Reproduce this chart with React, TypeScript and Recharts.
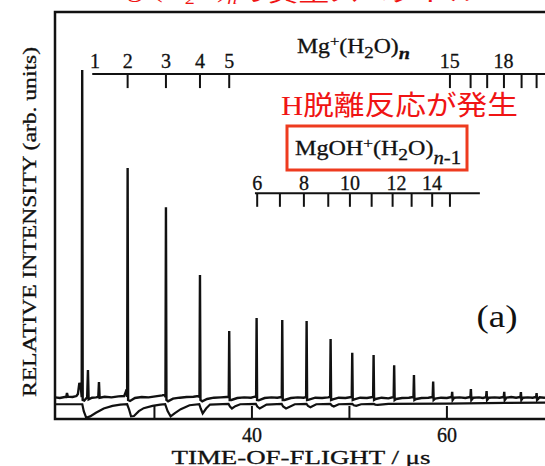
import { LineChart, Line, XAxis, YAxis, ReferenceLine, ReferenceDot, ReferenceArea } from 'recharts'

// TOF spectrum, time in µs, intensity in arb. units (Mg+ peak = 100)
const peakTimes = [22.59, 27.25, 31.18, 34.67, 37.67, 40.48, 43.11, 45.61, 48.07, 50.29, 52.48, 54.59, 56.62, 58.59, 60.54, 62.46, 64.07, 65.88, 67.59, 69.2]
const peakHeights = [100, 70.1, 58.2, 37.5, 20.4, 24.4, 23.8, 23.5, 18.0, 13.8, 13.1, 10.0, 7.0, 5.0, 1.9, 2.7, 2.1, 1.9, 1.8, 1.5]

// upper trace between the main peaks (small side peaks included)
const baseline: [number, number][] = [
  [19.8, 0.2], [20.3, 0.0], [20.8, 0.3], [20.95, 0.3], [21.03, 1.5], [21.12, 0.4], [21.6, 0.3], [22.0, 0.6], [22.15, 1.2], [22.3, 4.6], [22.45, 3.2],
  [22.8, -0.8], [23.1, 0.2], [23.18, 8.5], [23.25, -0.4], [23.6, 0.1], [24.0, 0.2], [24.24, 0.3], [24.31, 4.9], [24.38, 0.1], [24.9, 0.4], [25.6, 0.2], [26.3, 0.5], [26.9, 0.6], [27.05, 1.8], [27.15, 2.6],
  [27.5, -0.9], [28.0, 0.0], [28.7, 0.3], [29.4, 0.2], [30.1, 0.5], [30.8, 0.8], [31.05, 1.0],
  [31.4, -1.0], [31.9, -0.2], [32.6, 0.1], [33.3, 0.3], [34.0, 0.4], [34.5, 0.6],
  [34.9, -1.0], [35.4, -0.3], [36.1, 0.1], [36.8, 0.2], [37.4, 0.3],
  [37.9, -0.6], [38.5, 0.0], [39.2, 0.2], [39.9, 0.1], [40.3, 0.4],
  [40.7, -0.7], [41.3, 0.0], [42.0, 0.2], [42.6, 0.1],
  [43.35, -0.6], [44.0, 0.0], [44.7, 0.2], [45.3, 0.1],
  [45.85, -0.5], [46.5, 0.1], [47.2, 0.0], [47.8, 0.2],
  [48.3, -0.4], [48.9, 0.1], [49.6, 0.0],
  [50.5, -0.4], [51.1, 0.1], [51.8, 0.0],
  [52.7, -0.3], [53.3, 0.1], [54.0, -0.1],
  [54.8, -0.3], [55.4, 0.0], [56.1, 0.1],
  [56.85, -0.3], [57.4, 0.0], [58.1, 0.1],
  [58.8, -0.2], [59.4, 0.1], [60.0, 0.0],
  [60.75, 0.1], [61.3, 0.2], [61.9, 0.0],
  [62.7, 0.1], [63.3, 0.2], [63.7, 0.0],
  [64.3, 0.1], [64.9, 0.2], [65.4, 0.1],
  [66.1, 0.1], [66.6, 0.3], [67.1, 0.1],
  [67.8, 0.1], [68.3, 0.2], [68.8, 0.1],
  [69.5, 0.2], [70.0, 0.1], [70.6, 0.3], [71.1, 0.1], [71.6, 0.2],
]

// lower trace with the undershoot after each strong peak
const lowerTrace: [number, number][] = [
  [19.8, -1.9], [21.5, -1.9], [22.6, -1.9], [22.75, -4.0], [23.0, -6.0], [23.4, -5.6], [24.0, -4.5], [24.8, -3.2], [25.7, -2.4], [26.5, -2.0],
  [27.2, -1.9], [27.4, -3.5], [27.6, -5.6], [27.9, -5.5], [28.4, -4.0], [28.9, -3.1], [29.8, -2.4], [30.6, -2.0],
  [31.1, -1.9], [31.35, -4.0], [31.66, -5.6], [32.1, -4.6], [32.7, -3.4], [33.6, -2.2],
  [34.6, -1.9], [34.75, -3.2], [34.95, -4.7], [35.3, -3.2], [35.7, -2.0],
  [37.6, -1.8], [37.75, -2.6], [37.95, -3.2], [38.3, -2.5], [38.8, -1.9],
  [40.4, -1.8], [40.55, -2.6], [40.8, -3.2], [41.5, -2.0],
  [43.05, -1.8], [43.2, -2.6], [43.5, -3.2], [44.4, -1.9],
  [45.6, -1.8], [45.75, -2.4], [46.0, -2.8], [46.6, -1.9],
  [48.05, -1.8], [48.2, -2.3], [48.4, -2.6], [48.9, -1.9],
  [50.3, -1.8], [50.45, -2.2], [50.7, -2.4], [51.2, -1.9],
  [52.5, -1.8], [52.65, -2.0], [52.9, -2.1], [54.0, -1.8],
  [60.0, -1.7], [66.0, -1.5], [71.6, -1.4],
]

// Mg+(H2O)n ladder (upper) and MgOH+(H2O)n-1 ladder (lower)
const mgTickTimes = [27.25, 31.18, 34.67, 37.67, 60.31, 62.43, 64.13, 65.85, 67.66, 69.2]
const mgLabels = ['1', '2', '3', '4', '5', '15', '18']
const mgLabelTimes = [23.9, 27.25, 31.18, 34.67, 37.67, 60.3, 65.8]
const mgohTickTimes = [40.54, 42.87, 45.33, 47.83, 50.05, 52.28, 54.43, 56.38, 58.49, 60.31]
const mgohLabels = ['6', '8', '10', '12', '14']
const mgohLabelTimes = [40.54, 45.33, 50.05, 54.84, 58.46]

const xTicks = [30, 40, 50, 60]
const xTickLabels = ['', '40', '', '60']

const X_DOMAIN = [19.8, 71.6]
const Y_DOMAIN = [-6.4, 117.7]
const SERIF = '"Liberation Serif", "DejaVu Serif", serif'
const INK = '#111'

const mainTrace = [
  ...baseline.map(([t, v]) => ({ t, v })),
  ...peakTimes.flatMap((t, i) => [
    { t: t - 0.05, v: 0.3 },
    { t, v: peakHeights[i] },
    { t: t + 0.05, v: -0.6 },
  ]),
].sort((a, b) => a.t - b.t)

const lowerData = lowerTrace.map(([t, v]) => ({ t, v }))

const TofTick = (props: any) => {
  const { x, y, payload } = props
  const idx = xTicks.indexOf(payload.value)
  return (
    <g>
      <line x1={x} y1={y} x2={x} y2={y - 13} stroke={INK} strokeWidth={2} />
      <text x={x} y={y + 23} textAnchor="middle" fontFamily={SERIF} fontSize={20} fill={INK} stroke={INK} strokeWidth={0.3}>
        {xTickLabels[idx]}
      </text>
    </g>
  )
}

const ladderLabel = (text: string, size: number) => (p: any) => (
  <text x={p.cx} y={p.cy} textAnchor="middle" fontFamily={SERIF} fontSize={size} fill={INK} stroke={INK} strokeWidth={0.3}>
    {text}
  </text>
)

export default function App() {
  return (
    <div style={{ position: 'absolute', left: 0, top: 0, width: 545, height: 466, overflow: 'hidden', background: '#fff' }}>
      <LineChart width={560} height={466} margin={{ top: 12, right: 0, bottom: 0, left: 55 }}>
        <XAxis
          type="number"
          dataKey="t"
          domain={X_DOMAIN}
          ticks={xTicks}
          axisLine={false}
          tickLine={false}
          tickSize={0}
          tickMargin={0}
          height={47}
          tick={<TofTick />}
          allowDataOverflow
        />
        <YAxis type="number" domain={Y_DOMAIN} hide allowDataOverflow />
        <ReferenceArea x1={X_DOMAIN[0]} x2={X_DOMAIN[1]} y1={Y_DOMAIN[0]} y2={Y_DOMAIN[1]} fill="none" stroke={INK} strokeWidth={2.5} />

        {/* Mg+(H2O)n ladder */}
        <ReferenceLine segment={[{ x: 23.62, y: 98.8 }, { x: 71.6, y: 98.8 }]} stroke={INK} strokeWidth={2} />
        {mgTickTimes.map((t) => (
          <ReferenceLine key={`mg-${t}`} segment={[{ x: t, y: 98.8 }, { x: t, y: 94.5 }]} stroke={INK} strokeWidth={2} />
        ))}
        {mgLabels.map((n, i) => (
          <ReferenceDot key={`mgl-${n}`} x={mgLabelTimes[i]} y={100.6} r={0} shape={ladderLabel(n, 20)} />
        ))}

        {/* MgOH+(H2O)n-1 ladder */}
        <ReferenceLine segment={[{ x: 40.31, y: 62.4 }, { x: 63.38, y: 62.4 }]} stroke={INK} strokeWidth={2} />
        {mgohTickTimes.map((t) => (
          <ReferenceLine key={`oh-${t}`} segment={[{ x: t, y: 62.4 }, { x: t, y: 58.3 }]} stroke={INK} strokeWidth={2} />
        ))}
        {mgohLabels.map((n, i) => (
          <ReferenceDot key={`ohl-${n}`} x={mgohLabelTimes[i]} y={63.4} r={0} shape={ladderLabel(n, 20)} />
        ))}

        <Line data={lowerData} dataKey="v" type="linear" stroke={INK} strokeWidth={2.2} dot={false} isAnimationActive={false} />
        <Line data={mainTrace} dataKey="v" type="linear" stroke={INK} strokeWidth={2.4} dot={false} isAnimationActive={false} />
      </LineChart>

      <svg width={545} height={466} style={{ position: 'absolute', left: 0, top: 0, pointerEvents: 'none' }}>
        {/* caption cut off at the very top */}
        <text x={100} y={-3} fontSize={26} fill="#f01414" textLength={380} lengthAdjust="spacingAndGlyphs" fontFamily={SERIF}>
          Mg<tspan dy={-9} fontSize={15}>+</tspan><tspan dy={9}>(H</tspan><tspan dy={7} fontSize={17}>2</tspan><tspan dy={-7}>O)</tspan><tspan dy={7} fontSize={17} fontStyle="italic">n</tspan><tspan dy={-3} fontFamily='"Noto Sans CJK JP"'>の質量スペクトル</tspan>
        </text>

        <text transform="translate(36,222) rotate(-90)" textAnchor="middle" fontFamily={SERIF} fontSize={19} fill={INK} stroke={INK} strokeWidth={0.3} textLength={350} lengthAdjust="spacingAndGlyphs">
          RELATIVE INTENSITY (arb. units)
        </text>
        <text x={301} y={464} textAnchor="middle" fontFamily={SERIF} fontSize={19} fill={INK} stroke={INK} strokeWidth={0.3} textLength={259} lengthAdjust="spacingAndGlyphs">
          TIME-OF-FLIGHT / μs
        </text>
        <text x={497} y={327} textAnchor="middle" fontFamily={SERIF} fontSize={32} fill={INK} textLength={41} lengthAdjust="spacingAndGlyphs">
          (a)
        </text>

        <text x={297} y={53} fontFamily={SERIF} fontSize={20} fill={INK} stroke={INK} strokeWidth={0.3} textLength={113} lengthAdjust="spacingAndGlyphs">
          Mg<tspan dy={-7} fontSize={14}>+</tspan><tspan dy={7}>(H</tspan><tspan dy={5} fontSize={16}>2</tspan><tspan dy={-5}>O)</tspan><tspan dy={6} fontSize={17} fontStyle="italic" fontWeight="bold">n</tspan>
        </text>

        <text x={281} y={115} fontSize={27} fill="#f01414" textLength={237} lengthAdjust="spacingAndGlyphs">
          <tspan fontFamily={SERIF}>H</tspan><tspan fontFamily='"Noto Sans CJK JP"'>脱離反応が発生</tspan>
        </text>
        <rect x={287} y={126} width={180} height={44} fill="none" stroke="#ee3b1f" strokeWidth={3} />
        <text x={295} y={155} fontFamily={SERIF} fontSize={21} fill={INK} stroke={INK} strokeWidth={0.3} textLength={166} lengthAdjust="spacingAndGlyphs">
          MgOH<tspan dy={-7} fontSize={15}>+</tspan><tspan dy={7}>(H</tspan><tspan dy={5} fontSize={17}>2</tspan><tspan dy={-5}>O)</tspan><tspan dy={9} fontSize={18} fontStyle="italic">n</tspan><tspan fontSize={18}>-1</tspan>
        </text>
      </svg>
    </div>
  )
}
